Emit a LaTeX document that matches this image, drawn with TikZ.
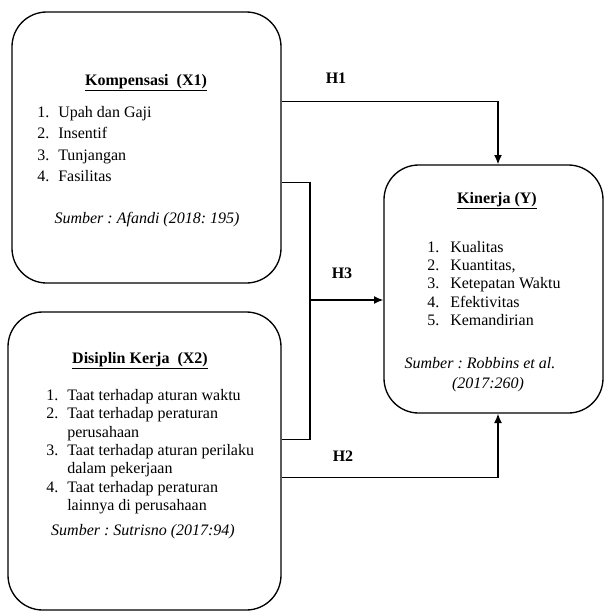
\documentclass[tikz,border=0pt]{standalone}
\usepackage{fontspec}
\setmainfont{Liberation Serif}
\usetikzlibrary{arrows.meta,calc}
\frenchspacing
\newcommand{\nomor}[2]{\makebox[#1][l]{#2}}
\tikzset{
  kotak/.style={draw, rounded corners=26pt, line width=1pt},
  teks/.style={anchor=base west, inner sep=0pt},
  tengah/.style={anchor=base, inner sep=0pt},
  garis/.style={line width=1pt},
  panah/.style={line width=1pt, -{Latex[length=7pt,width=6pt]}},
  hipo/.style={inner sep=0pt, font=\fontsize{12}{14}\selectfont\bfseries}
}
\begin{document}
\begin{tikzpicture}[x=0.75pt,y=-0.75pt,font=\fontsize{12}{14}\selectfont]
            \useasboundingbox (0,0) rectangle (604,612);
            % kotak variabel
            \node[kotak, minimum width=201.75pt, minimum height=203.25pt] (x1) at (146.5,147.5) {};
            \node[kotak, minimum width=204.75pt, minimum height=223.5pt] (x2) at (144.5,461) {};
            \node[kotak, minimum width=164.25pt, minimum height=186pt] (y) at (493.5,289) {};
            % Kompensasi
            \node[tengah] (x1judul) at (146,85) {\underline{\textbf{Kompensasi\ \ (X1)}}};
            \node[teks] (x1a) at (37,117) {\nomor{15.75pt}{1.}Upah dan Gaji};
            \node[teks] (x1b) at (37,138.5) {\nomor{15.75pt}{2.}Insentif};
            \node[teks] (x1c) at (37,160) {\nomor{15.75pt}{3.}Tunjangan};
            \node[teks] (x1d) at (37,181) {\nomor{15.75pt}{4.}Fasilitas};
            \node[tengah] (x1sumber) at (147,223) {\textit{Sumber : Afandi (2018: 195)}};
            % Disiplin Kerja
            \node[tengah] (x2judul) at (140,363) {\underline{\textbf{Disiplin Kerja\ \ (X2)}}};
            \node[teks] (x2a) at (46,400) {\nomor{15.75pt}{1.}Taat terhadap aturan waktu};
            \node[teks] (x2b) at (46,418) {\nomor{15.75pt}{2.}Taat terhadap peraturan};
            \node[teks] (x2b2) at (67,437) {perusahaan};
            \node[teks] (x2c) at (46,455) {\nomor{15.75pt}{3.}Taat terhadap aturan perilaku};
            \node[teks] (x2c2) at (67,473) {dalam pekerjaan};
            \node[teks] (x2d) at (46,492) {\nomor{15.75pt}{4.}Taat terhadap peraturan};
            \node[teks] (x2d2) at (67,510) {lainnya di perusahaan};
            \node[tengah] (x2sumber) at (143,535) {\textit{Sumber : Sutrisno (2017:94)}};
            % Kinerja
            \node[tengah] (yjudul) at (497,203) {\underline{\textbf{Kinerja (Y)}}};
            \node[teks] (ya) at (427,252) {\nomor{17.25pt}{1.}Kualitas};
            \node[teks] (yb) at (427,270) {\nomor{17.25pt}{2.}Kuantitas,};
            \node[teks] (yc) at (427,288.5) {\nomor{17.25pt}{3.}Ketepatan Waktu};
            \node[teks] (yd) at (427,307) {\nomor{17.25pt}{4.}Efektivitas};
            \node[teks] (ye) at (427,325) {\nomor{17.25pt}{5.}Kemandirian};
            \node[tengah] (ysumber) at (480,368) {\textit{Sumber : Robbins et al.}};
            \node[tengah] (ysumber2) at (488,388) {\textit{(2017:260)}};
            % hubungan
            \draw[panah] ($(x1.north east)+(0,90)$) -| ($(y.north)+(4.5,0)$);
            \coordinate (j3) at (310,300);
            \draw[garis] ($(x1.north east)+(0,171)$) -| (j3) |- ($(x2.north east)+(0,128)$);
            \draw[panah] (j3) -- (j3 -| y.west);
            \draw[panah] ($(x2.north east)+(0,166)$) -| ($(y.south)+(4.5,0)$);
            \node[hipo] (h1) at (336,78) {H1};
            \node[hipo] (h3) at (342,273) {H3};
            \node[hipo] (h2) at (343,456) {H2};
         \end{tikzpicture}
\end{document}
